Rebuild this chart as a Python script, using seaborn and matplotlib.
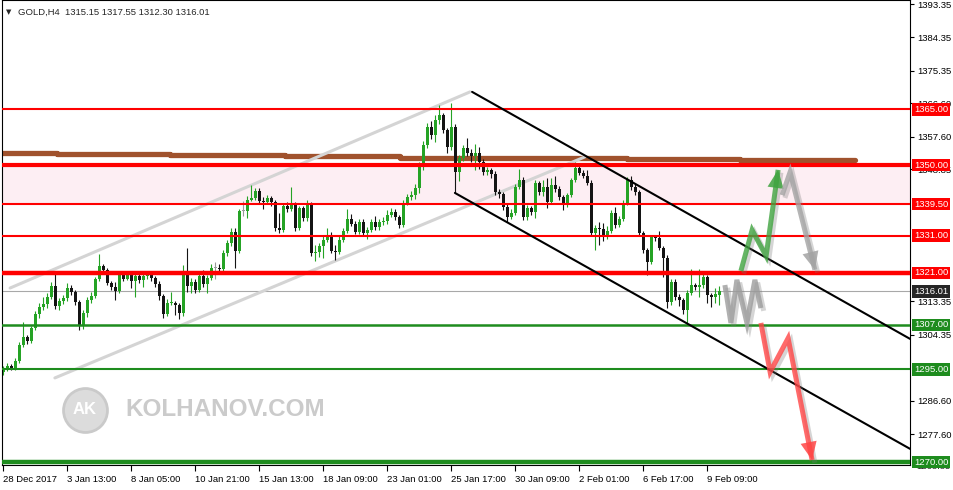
import numpy as np
import pandas as pd
import matplotlib
matplotlib.use("Agg")
import matplotlib.pyplot as plt
import matplotlib.patheffects as pe
import matplotlib.transforms as mtransforms
import seaborn as sns

# -----------------------------
# data (GOLD, H4)
# -----------------------------
first_open = 1294.3
last_open = 1315.15

closes = [1295.1, 1295.9, 1295.4, 1297.3, 1301.6, 1303.7, 1302.6, 1306.1, 1309.9, 1311.8,
          1312.6, 1314.5, 1317.4, 1312.1, 1313.4, 1314.2, 1316.9, 1315.8, 1313.1, 1306.7,
          1310.2, 1313.7, 1314.8, 1319.3, 1322.8, 1321.8, 1318.3, 1317.2, 1316.1, 1320.4,
          1319.3, 1320.3, 1318.8, 1320.1, 1319.1, 1320.1, 1320.7, 1319.6, 1318.0, 1314.8,
          1309.9, 1312.9, 1313.0, 1312.3, 1310.2,
          1321.2, 1317.4, 1318.5, 1316.4, 1320.1, 1318.0, 1319.6, 1322.3, 1322.3, 1322.0,
          1326.3, 1329.0, 1332.0, 1326.9, 1337.6, 1337.6, 1340.6, 1341.1, 1343.0, 1340.3,
          1340.1, 1341.1, 1340.1, 1333.1, 1332.5, 1339.0, 1338.2, 1339.5, 1333.1, 1338.4,
          1335.8, 1339.5, 1326.3, 1326.6, 1328.2, 1329.8, 1331.2, 1326.9, 1326.6, 1329.8,
          1332.3, 1335.5, 1334.1, 1332.0, 1334.7,
          1331.7, 1332.5, 1334.7, 1333.3, 1334.7, 1334.9, 1336.6, 1337.4, 1336.0, 1333.9,
          1339.8, 1341.4, 1341.9, 1343.8, 1349.5, 1355.4, 1360.2, 1358.1, 1362.1, 1363.5,
          1359.4, 1354.9, 1360.2, 1348.1, 1351.9, 1354.6, 1353.3, 1352.4, 1353.3, 1350.8,
          1348.1, 1348.7, 1347.6, 1342.8, 1342.2, 1338.7, 1336.0, 1337.1, 1344.1, 1346.0,
          1336.0, 1338.4, 1337.4, 1345.2,
          1342.8, 1344.1, 1340.1, 1344.6, 1343.6, 1341.4, 1339.3, 1341.9, 1346.0, 1349.2,
          1347.9, 1347.1, 1345.2, 1331.7, 1333.1, 1332.8, 1330.9, 1332.3, 1337.1, 1333.9,
          1335.5, 1339.8, 1346.0, 1344.1, 1342.8, 1331.7, 1327.1, 1323.9, 1330.6, 1330.4,
          1327.7, 1325.0, 1313.1, 1318.5, 1314.5, 1313.7, 1311.0, 1315.6, 1317.7, 1317.2,
          1317.7, 1319.9, 1315.0, 1314.5, 1315.2, 1316.01]

highs = [1295.8, 1296.6, 1296.5, 1298.0, 1302.5, 1307.8, 1304.3, 1306.8, 1310.6, 1313.0,
         1314.5, 1315.6, 1318.5, 1320.9, 1314.3, 1315.0, 1318.2, 1317.6, 1316.3, 1313.6,
         1310.9, 1314.4, 1315.8, 1320.0, 1326.1, 1323.5, 1322.4, 1318.9, 1318.5, 1321.5,
         1321.5, 1321.4, 1321.2, 1321.0, 1321.2, 1321.3, 1321.4, 1321.3, 1320.2, 1318.7,
         1315.3, 1314.0, 1315.8, 1313.4, 1312.8,
         1323.1, 1327.7, 1319.5, 1319.2, 1320.8, 1321.7, 1320.3, 1323.4, 1324.0, 1323.4,
         1327.0, 1329.8, 1333.1, 1333.0, 1338.3, 1340.3, 1341.8, 1344.6, 1343.7, 1343.8,
         1341.5, 1342.0, 1341.8, 1340.7, 1337.1, 1339.6, 1340.0, 1344.1, 1340.0, 1339.0,
         1339.0, 1340.6, 1340.0, 1328.5, 1329.0, 1331.2, 1333.0, 1332.0, 1328.5, 1330.8,
         1333.0, 1338.2, 1336.9, 1335.0, 1335.6,
         1335.5, 1333.3, 1335.6, 1336.3, 1335.5, 1336.0, 1338.0, 1338.4, 1338.1, 1336.6,
         1340.5, 1342.1, 1342.9, 1344.8, 1350.8, 1356.5, 1361.2, 1361.8, 1363.4, 1366.2,
         1364.0, 1360.0, 1366.7, 1361.0, 1352.7, 1355.5, 1357.3, 1354.3, 1355.8, 1354.9,
         1351.5, 1349.5, 1349.2, 1348.3, 1343.5, 1342.8, 1339.4, 1338.2, 1344.8, 1349.0,
         1346.8, 1339.2, 1339.0, 1346.0,
         1345.8, 1346.0, 1346.6, 1346.6, 1347.0, 1344.3, 1342.0, 1342.6, 1346.6, 1350.8,
         1350.5, 1348.6, 1348.8, 1345.9, 1333.9, 1334.8, 1334.3, 1333.5, 1337.9, 1338.6,
         1336.2, 1340.6, 1346.7, 1347.0, 1344.9, 1343.3, 1332.3, 1327.7, 1331.3, 1331.2,
         1332.3, 1328.3, 1325.7, 1319.3, 1319.2, 1315.3, 1314.3, 1316.3, 1322.0, 1318.3,
         1322.0, 1320.6, 1320.3, 1315.6, 1316.8, 1317.55]

lows = [1293.6, 1294.6, 1294.9, 1294.8, 1296.8, 1301.0, 1301.9, 1302.0, 1305.5, 1308.8,
        1311.0, 1311.5, 1313.9, 1311.2, 1311.0, 1312.6, 1313.5, 1315.0, 1312.3, 1305.6,
        1305.9, 1309.2, 1313.0, 1314.2, 1318.8, 1321.0, 1317.6, 1316.5, 1313.7, 1315.5,
        1318.7, 1319.0, 1317.0, 1314.5, 1318.2, 1317.2, 1319.3, 1318.9, 1317.2, 1313.8,
        1308.9, 1309.3, 1312.3, 1309.6, 1308.6,
        1309.5, 1315.9, 1315.6, 1315.6, 1315.9, 1317.3, 1315.6, 1319.0, 1319.4, 1321.3,
        1321.5, 1325.6, 1328.3, 1322.3, 1326.3, 1336.4, 1335.7, 1340.2, 1340.5, 1339.6,
        1338.2, 1339.5, 1339.0, 1332.3, 1331.8, 1332.0, 1337.3, 1337.6, 1332.3, 1332.6,
        1335.0, 1335.0, 1325.6, 1324.2, 1325.3, 1325.0, 1329.2, 1326.2, 1324.5, 1326.0,
        1329.2, 1331.8, 1333.5, 1331.4, 1331.4,
        1330.8, 1330.2, 1332.0, 1332.5, 1332.6, 1333.8, 1334.2, 1335.9, 1335.2, 1333.0,
        1333.2, 1339.2, 1340.5, 1340.9, 1342.6, 1348.7, 1354.6, 1357.0, 1356.2, 1361.0,
        1358.6, 1353.2, 1354.0, 1342.5, 1345.6, 1351.2, 1352.5, 1350.8, 1348.7, 1349.0,
        1347.2, 1347.2, 1346.6, 1342.0, 1341.2, 1337.8, 1334.6, 1335.5, 1336.5, 1343.6,
        1335.3, 1335.2, 1336.5, 1335.8,
        1341.9, 1341.8, 1338.4, 1339.5, 1342.7, 1340.7, 1337.9, 1338.7, 1341.3, 1345.5,
        1347.2, 1346.4, 1344.5, 1330.9, 1327.1, 1328.5, 1329.5, 1330.0, 1331.6, 1333.1,
        1333.4, 1334.9, 1339.2, 1343.3, 1342.0, 1330.9, 1326.4, 1320.4, 1323.3, 1329.6,
        1327.0, 1320.0, 1311.5, 1312.4, 1313.8, 1312.0, 1310.0, 1307.5, 1315.0, 1316.4,
        1314.5, 1317.0, 1313.0, 1311.8, 1313.0, 1312.30]

# levels drawn on the chart
res_levels = [1365.00, 1350.00, 1339.50, 1331.00, 1321.00]
sup_levels = [1307.00, 1295.00, 1270.00]
zone = (1339.50, 1350.00)
bid = 1316.01

# weekly MA (brown step line): bar edges and values
ma_edges = [-0.3, 13.4, 41.7, 70.4, 99.2, 127.4, 155.9, 184.2, 212.9]
ma_values = [1353.25, 1352.98, 1352.71, 1352.44, 1352.03, 1351.77, 1351.50, 1351.36]

# trend channels (bar index, price)
gray_up = [(1.7, 1316.9), (116.7, 1369.7)]
gray_dn = [(12.9, 1292.7), (145.4, 1352.2)]
black_up = [(117.2, 1369.7), (226.7, 1303.2)]
black_dn = [(112.9, 1342.5), (226.7, 1273.6)]

# scenario arrows
path_range = [(180.4, 1317.7), (181.9, 1307.5), (183.4, 1319.1), (185.9, 1307.5),
              (187.9, 1319.1), (189.4, 1311.5)]
path_bull = [(184.4, 1321.5), (187.2, 1332.5), (190.7, 1325.5), (193.7, 1348.7)]
path_back = [(194.7, 1341.9), (196.7, 1348.1), (202.9, 1321.8)]
path_bear = [(189.4, 1307.5), (191.7, 1294.3), (196.2, 1303.4), (202.2, 1270.6)]

# axis labels
yticks = [1393.35, 1384.35, 1375.35, 1366.60, 1357.60, 1348.85, 1313.35, 1304.35,
          1286.60, 1277.60]
xtick_bars = [0, 16, 32, 48, 64, 80, 96, 112, 128, 144, 160, 176]
xtick_labels = ['28 Dec 2017', '3 Jan 13:00', '8 Jan 05:00', '10 Jan 21:00',
                '15 Jan 13:00', '18 Jan 09:00', '23 Jan 01:00', '25 Jan 17:00',
                '30 Jan 09:00', '2 Feb 01:00', '6 Feb 17:00', '9 Feb 09:00']

# -----------------------------
# build candles
# -----------------------------
opens = [first_open] + closes[:-1]
opens[-1] = last_open
df = pd.DataFrame({"x": np.arange(len(closes)), "open": opens, "high": highs,
                   "low": lows, "close": closes})
df["high"] = df[["high", "open", "close"]].max(axis=1)
df["low"] = df[["low", "open", "close"]].min(axis=1)

GREEN = "#25A325"
DARK = "#141414"
df["color"] = np.where(df.close > df.open, GREEN,
                       np.where(df.close < df.open, DARK, "#9A9A9A"))

sns.set_theme(style="white")
plt.rcParams["font.family"] = ["Liberation Sans", "DejaVu Sans"]

W, H = 954, 490
fig = plt.figure(figsize=(W / 100, H / 100), dpi=100)
ax = fig.add_axes([2 / W, 25 / H, 908 / W, 465 / H])
ax.set_xlim(-0.325, 226.675)
ax.set_ylim(1269.26, 1394.43)

# zone + bid line
ax.axhspan(zone[0], zone[1], color="#FDEEF3", lw=0, zorder=0)
ax.axhline(bid, color="#A8A8A8", lw=0.8, zorder=1)

# brown weekly MA
sns.lineplot(x=ma_edges, y=ma_values + [ma_values[-1]], drawstyle="steps-post",
             color="#A0522D", lw=3.8, estimator=None, ax=ax, zorder=1.5)

# light gray channel
for (x0, y0), (x1, y1) in [gray_up, gray_dn]:
    ax.plot([x0, x1], [y0, y1], color="#D4D4D4", lw=2.2, zorder=1.6)

# candles
ax.vlines(df.x, df.low, df.high, colors=df.color, lw=0.8, zorder=2)
body = (df.close - df.open).abs().clip(lower=0.3)
ax.bar(df.x, body, bottom=df[["open", "close"]].min(axis=1), width=0.78,
       color=df.color, lw=0, zorder=2.1)

# levels
for v, w in zip(res_levels, [1.5, 3.0, 1.5, 1.5, 3.2]):
    ax.axhline(v, color="#FF0000", lw=w, zorder=3)
for v, w in zip(sup_levels, [1.8, 1.5, 3.2]):
    ax.axhline(v, color="#1E8C1E", lw=w, zorder=3)

# black channel
for (x0, y0), (x1, y1) in [black_up, black_dn]:
    ax.plot([x0, x1], [y0, y1], color="black", lw=1.5, zorder=3.5)


def zigzag(pts, color, head=False):
    xs, ys = zip(*pts)
    ax.plot(xs, ys, color=color, lw=3.6, alpha=0.8, solid_joinstyle="miter",
            solid_capstyle="butt", zorder=8,
            path_effects=[pe.SimpleLineShadow(offset=(2, -2), shadow_color="#777777",
                                              alpha=0.3), pe.Normal()])
    if head:
        ax.annotate("", xy=pts[-1], xytext=pts[-2], zorder=8,
                    arrowprops=dict(arrowstyle="-|>,head_length=1.0,head_width=0.45",
                                    color=color, lw=0, alpha=0.85, mutation_scale=13,
                                    shrinkA=0, shrinkB=0))


zigzag(path_range, "#9C9C9C")
zigzag(path_bull, "#3FA33F", head=True)
zigzag(path_back, "#A3A3A3", head=True)
zigzag(path_bear, "#FF4545", head=True)

# watermark
ax.scatter([20.4], [1284.07], s=1000, color="#DCDCDC", edgecolors="#CACACA",
           linewidths=2, zorder=1)
ax.text(20.4, 1284.07, "AK", color="white", fontsize=12, fontweight="bold",
        ha="center", va="center", zorder=1.1)
ax.text(30.4, 1284.07, "KOLHANOV.COM", color="#CBCBCB", fontsize=17.5,
        fontweight="bold", ha="left", va="center", zorder=1)

# axes styling
for s in ax.spines.values():
    s.set_color("black")
    s.set_linewidth(0.8)
ax.yaxis.tick_right()
ax.set_yticks(yticks)
ax.set_yticklabels([f"{v:.2f}" for v in yticks])
ax.set_xticks(xtick_bars)
ax.set_xticklabels(xtick_labels)
for lab in ax.get_xticklabels():
    lab.set_horizontalalignment("left")
ax.tick_params(axis="y", right=True, left=False, labelright=True, labelleft=False,
               direction="out", length=3, width=0.8, pad=2, labelsize=6.8,
               colors="black")
ax.tick_params(axis="x", bottom=True, direction="out", length=4, width=0.8, pad=3,
               labelsize=6.8, colors="black")
ax.set_xlabel("")
ax.set_ylabel("")
ax.grid(False)

trans = mtransforms.blended_transform_factory(ax.transAxes, ax.transData)
ax.text(1 + 6 / 908, 1268.85, "1268.85", transform=trans, ha="left", va="center",
        fontsize=6.8, clip_on=False, zorder=5)
boxes = [(v, "#FF0000") for v in res_levels] + [(bid, "#262626")] + \
        [(v, "#1E8C1E") for v in sup_levels]
for v, c in boxes:
    ax.text(1 + 4 / 908, v, f"{v:.2f}", transform=trans, ha="left", va="center",
            fontsize=6.8, color="white", clip_on=False, zorder=20,
            bbox=dict(boxstyle="square,pad=0.18", fc=c, ec="none"))

# header
fig.text(6 / W, 1 - 12 / H, "\u25BC", fontsize=5, va="center", ha="left",
         family=["DejaVu Sans"])
fig.text(18 / W, 1 - 12 / H, "GOLD,H4  1315.15 1317.55 1312.30 1316.01",
         fontsize=6.8, va="center", ha="left")

fig.savefig("out.png", dpi=100)
